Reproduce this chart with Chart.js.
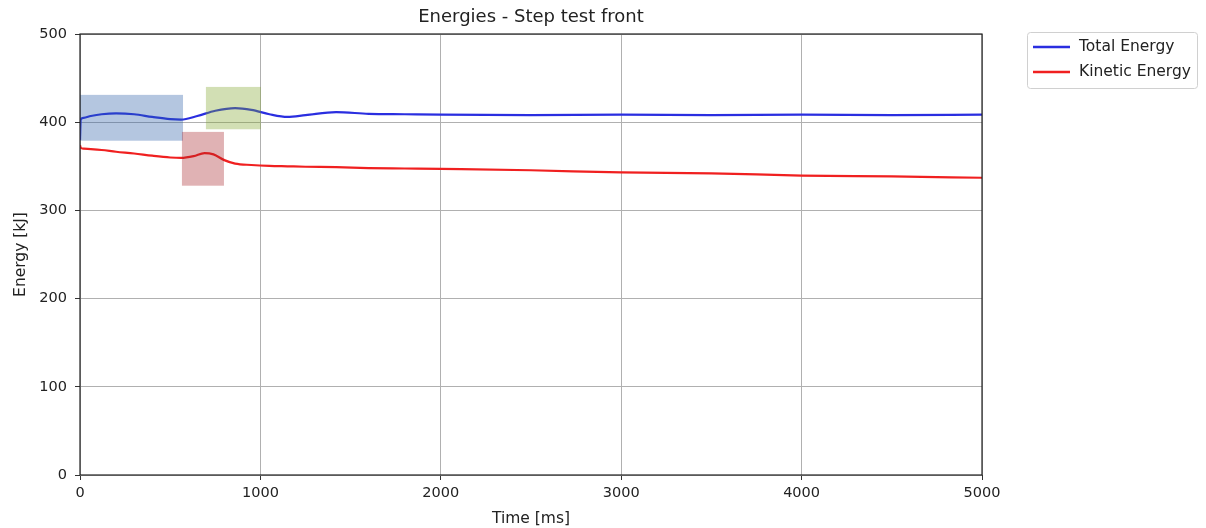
<!DOCTYPE html>
<html>
<head>
<meta charset="utf-8">
<script src="https://cdn.jsdelivr.net/npm/chart.js@4.4.1/dist/chart.umd.min.js"></script>
<style>
  html, body { margin: 0; padding: 0; background: #fff; }
  #wrap { width: 1206px; height: 528px; position: relative; }
</style>
</head>
<body>
<div id="wrap"><canvas id="energy"></canvas></div>
<script>
/* ── Energy traces (time in ms, energy in kJ) ───────────────────────── */
const totalTime = [0, 4, 20, 60, 120, 200, 300, 400, 500, 560, 650, 750, 860, 950, 1050, 1150, 1250, 1420, 1600, 1800, 2000, 2500, 3000, 3500, 4000, 4500, 5000];
const totalEnergy = [380, 403, 405, 407, 409, 410, 409, 406, 403.5, 403, 407, 413, 416, 414, 409, 406, 408, 411.5, 409.5, 409, 408.5, 408, 408.5, 408, 408.5, 408, 408.5];

const kineticTime = [0, 4, 20, 60, 120, 200, 300, 400, 500, 560, 630, 690, 740, 800, 860, 950, 1050, 1150, 1250, 1420, 1600, 1800, 2000, 2500, 3000, 3500, 4000, 4500, 5000];
const kineticEnergy = [374, 371, 370, 369.5, 368.5, 366.5, 364.5, 362, 360, 359.5, 361.5, 365, 363.5, 357, 353, 351.5, 350.5, 350, 349.5, 349, 348, 347.5, 347, 345.5, 343, 342, 339.5, 338.5, 337];

/* ── Highlighted regions: [t0, t1, e0, e1] ───────────────────────────── */
const regionBounds = [
  [0, 571, 379, 431],
  [698, 1003, 392, 440],
  [565, 798, 328, 389],
];
const regionColors = ["rgba(41,92,166,0.35)", "rgba(126,164,41,0.35)", "rgba(166,35,41,0.35)"];

const xTicks = [0, 1000, 2000, 3000, 4000, 5000];
const yTicks = [0, 100, 200, 300, 400, 500];

const FONT = "'DejaVu Sans', sans-serif";

const toPoints = (xs, ys) => xs.map((x, i) => ({ x: x, y: ys[i] }));

/* shaded boxes, frame, title and legend */
const decorPlugin = {
  id: "decor",
  afterDatasetsDraw(chart) {
    const { ctx, scales: { x, y } } = chart;
    ctx.save();
    regionBounds.forEach((r, i) => {
      const x0 = x.getPixelForValue(r[0]), x1 = x.getPixelForValue(r[1]);
      const y0 = y.getPixelForValue(r[3]), y1 = y.getPixelForValue(r[2]);
      ctx.fillStyle = regionColors[i];
      ctx.fillRect(x0, y0, x1 - x0, y1 - y0);
    });
    ctx.restore();
  },
  afterDraw(chart) {
    const { ctx, chartArea: a } = chart;
    ctx.save();
    // axes frame
    ctx.strokeStyle = "#222";
    ctx.lineWidth = 1.2;
    ctx.strokeRect(a.left, a.top, a.right - a.left, a.bottom - a.top);

    // title
    ctx.fillStyle = "#222";
    ctx.font = "18px " + FONT;
    ctx.textAlign = "center";
    ctx.textBaseline = "middle";
    ctx.fillText("Energies - Step test front", (a.left + a.right) / 2, 17.5);

    // legend box
    const lx = 1027, ly = 32, lw = 170, lh = 56;
    ctx.fillStyle = "#fff";
    ctx.strokeStyle = "#d0d0d0";
    ctx.lineWidth = 1;
    ctx.beginPath();
    ctx.roundRect(lx + 0.5, ly + 0.5, lw, lh, 3);
    ctx.fill();
    ctx.stroke();
    ctx.font = "15.5px " + FONT;
    ctx.textAlign = "left";
    chart.data.datasets.forEach((ds, i) => {
      const cy = ly + 15 + i * 25;
      ctx.strokeStyle = ds.borderColor;
      ctx.lineWidth = 2.5;
      ctx.beginPath();
      ctx.moveTo(lx + 6, cy);
      ctx.lineTo(lx + 43, cy);
      ctx.stroke();
      ctx.fillStyle = "#222";
      ctx.fillText(ds.label, lx + 52, cy);
    });
    ctx.restore();
  },
};

new Chart(document.getElementById("energy"), {
  type: "line",
  data: {
    datasets: [
      {
        label: "Total Energy",
        data: toPoints(totalTime, totalEnergy),
        borderColor: "#2a2ee0",
        borderWidth: 2.2,
        pointRadius: 0,
        cubicInterpolationMode: "monotone",
      },
      {
        label: "Kinetic Energy",
        data: toPoints(kineticTime, kineticEnergy),
        borderColor: "#f02020",
        borderWidth: 2.2,
        pointRadius: 0,
        cubicInterpolationMode: "monotone",
      },
    ],
  },
  options: {
    responsive: true,
    maintainAspectRatio: false,
    animation: false,
    layout: { padding: { top: 34, right: 224, left: 0, bottom: 0 } },
    plugins: {
      legend: { display: false },
      title: { display: false },
      tooltip: { enabled: false },
    },
    scales: {
      x: {
        type: "linear",
        min: 0,
        max: 5000,
        afterBuildTicks: (s) => { s.ticks = xTicks.map((v) => ({ value: v })); },
        afterFit: (s) => { s.height = 53; },
        grid: { color: "#b0b0b0", tickColor: "#333", tickLength: 5, lineWidth: 1 },
        border: { display: false },
        ticks: { color: "#222", font: { family: FONT, size: 14.5 }, padding: 5, maxRotation: 0, callback: (v) => String(v) },
        title: { display: true, text: "Time [ms]", color: "#222", font: { family: FONT, size: 15.5 }, padding: { top: 2, bottom: 0 } },
      },
      y: {
        min: 0,
        max: 500,
        afterBuildTicks: (s) => { s.ticks = yTicks.map((v) => ({ value: v })); },
        afterFit: (s) => { s.width = 80; },
        grid: { color: "#b0b0b0", tickColor: "#333", tickLength: 5, lineWidth: 1 },
        border: { display: false },
        ticks: { color: "#222", font: { family: FONT, size: 14.5 }, padding: 8 },
        title: { display: true, text: "Energy [kJ]", color: "#222", font: { family: FONT, size: 15.5 }, padding: { top: 12, bottom: 0 } },
      },
    },
  },
  plugins: [decorPlugin],
});
</script>
</body>
</html>
